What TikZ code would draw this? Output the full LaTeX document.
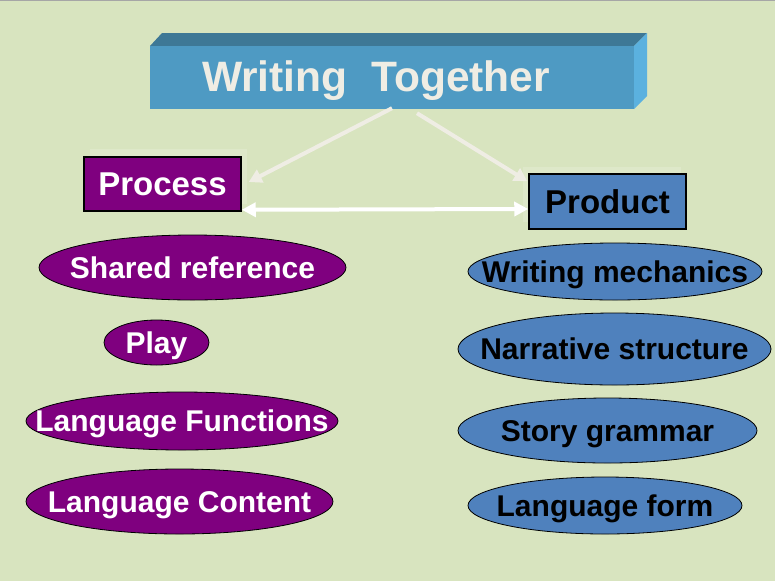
\documentclass[tikz,border=0pt]{standalone}
\usepackage{fontspec}
\setmainfont{Liberation Sans}
\usetikzlibrary{arrows.meta}
\definecolor{sheetgreen}{HTML}{D8E4BF}
\definecolor{sheetglow}{HTML}{DEE8C9}
\definecolor{procpurple}{HTML}{7F007F}
\definecolor{prodblue}{HTML}{4F81BD}
\definecolor{titlefront}{HTML}{4E9AC3}
\definecolor{titletop}{HTML}{3E7896}
\definecolor{titleside}{HTML}{5BB1DF}
\definecolor{chalk}{HTML}{EFEDE4}

\begin{document}
\begin{tikzpicture}[x=1pt,y=1pt,font=\bfseries,
  proc-ellipse/.style={fill=procpurple,draw=black,line width=0.8pt},
  prod-ellipse/.style={fill=prodblue,draw=black,line width=0.8pt},
  item-text/.style={inner sep=0pt,text height=21.5pt,text depth=0pt,font=\bfseries\fontsize{30}{35}\selectfont},
  head-box/.style={draw=black,line width=1.5pt,minimum width=157pt,minimum height=54pt,inner sep=0pt,text height=23.6pt,text depth=0pt,font=\bfseries\fontsize{33}{38}\selectfont},
  link-arrow/.style={draw=chalk,line width=4pt,-{Triangle[length=13pt,width=14pt]}}]
\useasboundingbox (0,0) rectangle (775,-581);
\path[fill=sheetgreen,draw=none] (0,0) rectangle (775,-581);
\path[draw=gray!70,line width=1pt] (0,-0.5) -- (775,-0.5);
% title block
\path[fill=titletop,draw=none] (150,-46) -- (162,-33) -- (647,-33) -- (634,-46) -- cycle;
\path[fill=titleside,draw=none] (634,-46) -- (647,-33) -- (647,-96) -- (634,-109) -- cycle;
\node[fill=titlefront,draw=none,minimum width=484pt,minimum height=63pt,inner sep=0pt] (title-box) at (392,-77.5) {};
\node[text=chalk,inner sep=0pt,text height=30pt,text depth=0pt,font=\bfseries\fontsize{42.5}{50}\selectfont] (title-text) at (376,-76) {Writing\ \ Together};
% head boxes
\path[fill=sheetglow,draw=none] (90,-149) rectangle (247,-204);
\path[fill=sheetglow,draw=none] (523,-167) rectangle (681,-222);
\node[head-box,fill=procpurple,text=white] (process-box) at (162.5,-184) {Process};
\node[head-box,fill=prodblue,text=black,minimum height=55pt] (product-box) at (607.5,-201.5) {Product};
\draw[link-arrow] ([yshift=1pt]title-box.south) -- ([xshift=7pt,yshift=2pt]process-box.east);
\draw[link-arrow] ([xshift=25pt,yshift=-4pt]title-box.south) -- ([xshift=-1pt,yshift=-8pt]product-box.north west);
\draw[draw=white,line width=4pt,{Triangle[length=14pt,width=14pt]}-{Triangle[length=14pt,width=14pt]}] ([yshift=2pt]process-box.south east) -- ([yshift=-7.5pt]product-box.west);
% process items
\path[proc-ellipse] (192.5,-267.5) ellipse (153.5 and 32.5);
\node[item-text,text=white] (shared-reference) at (192.5,-267.5) {Shared reference};
\path[proc-ellipse] (156.5,-342.5) ellipse (52.5 and 22.5);
\node[item-text,text=white] (play) at (156.5,-342.5) {Play};
\path[proc-ellipse] (182,-421) ellipse (156 and 29);
\node[item-text,text=white] (language-functions) at (182,-421) {Language Functions};
\path[proc-ellipse] (179.5,-501.5) ellipse (153.5 and 32.5);
\node[item-text,text=white] (language-content) at (179.5,-501.5) {Language Content};
% product items
\path[prod-ellipse] (615,-271.5) ellipse (147 and 28.5);
\node[item-text,text=black] (writing-mechanics) at (615,-271.5) {Writing mechanics};
\path[prod-ellipse] (614.5,-349) ellipse (156.5 and 36);
\node[item-text,text=black] (narrative-structure) at (614.5,-349) {Narrative structure};
\path[prod-ellipse] (607.5,-430.5) ellipse (149.5 and 32.5);
\node[item-text,text=black] (story-grammar) at (607.5,-430.5) {Story grammar};
\path[prod-ellipse] (605,-505.5) ellipse (137 and 28.5);
\node[item-text,text=black] (language-form) at (605,-505.5) {Language form};
\end{tikzpicture}
\end{document}
